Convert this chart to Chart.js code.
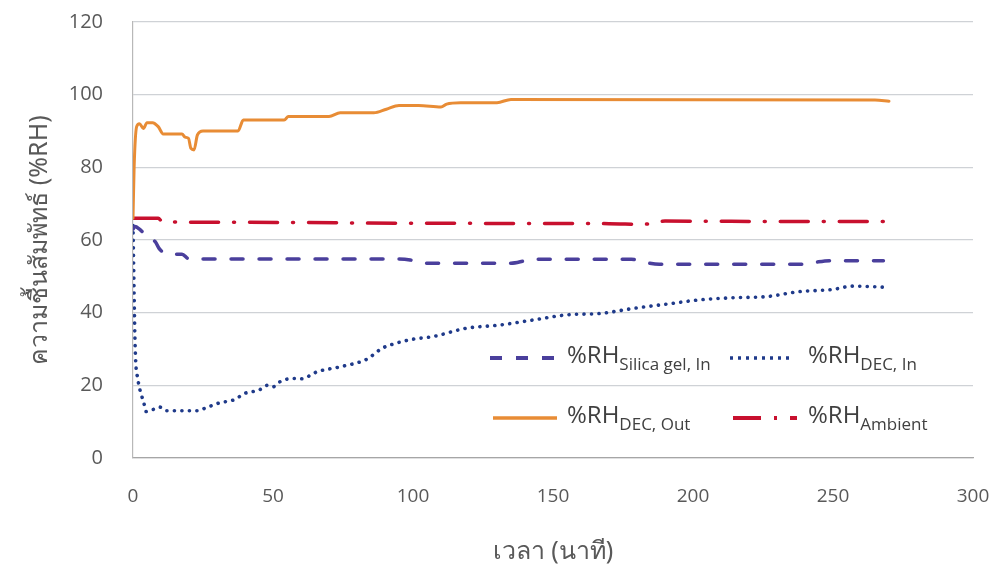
<!DOCTYPE html>
<html>
<head>
<meta charset="utf-8">
<script src="https://cdn.jsdelivr.net/npm/chart.js@4"></script>
<style>
  html, body { margin: 0; padding: 0; background: #fff; }
  #wrap { position: relative; width: 999px; height: 569px; }
  #chart { position: absolute; left: 0; top: 0; }
  .leg { position: absolute; font-family: 'Open Sans', 'Noto Sans', sans-serif; color: #404040; font-size: 24px; line-height: 28px; white-space: nowrap; }
  .leg sub { font-size: 17px; vertical-align: -7px; line-height: 0; }
  .sample { position: absolute; }
</style>
</head>
<body>
<div id="wrap">
  <canvas id="chart" width="999" height="569"></canvas>
  <div id="legend"></div>
</div>
<script>
// 시간 (분) / 상대습도 (%RH)
const tSilica = [0, 0.7, 2.3, 5, 6.5, 8, 9.3, 11, 12.5, 17.5, 20, 95, 99, 102, 107, 135, 140, 143, 178, 182, 188, 238, 243, 249, 268];
const rhSilica = [63, 63.7, 63, 61, 60.2, 59.5, 57.7, 56.5, 56.1, 56.1, 54.8, 54.8, 54.5, 53.8, 53.6, 53.6, 54.3, 54.7, 54.7, 54, 53.3, 53.3, 53.8, 54.3, 54.3];

const tDecIn = [0, 0.8, 1.8, 2.5, 3.9, 4.6, 6, 8, 9.6, 12, 23, 26, 31, 36, 40, 45, 48, 50, 52.5, 57, 60, 66, 74, 83.5, 89, 94, 100, 107, 119, 131, 143, 155, 167, 179, 191, 202, 214, 226, 238, 250, 257, 269];
const rhDecIn = [64, 30, 21.5, 18.7, 15.1, 12.8, 13.2, 13.5, 14, 13, 13, 13.8, 15.2, 16, 17.8, 18.7, 20, 19.6, 21, 21.9, 21.8, 23.8, 25.1, 27.2, 30.2, 31.6, 32.7, 33.4, 35.7, 36.6, 38, 39.4, 39.8, 41.2, 42.4, 43.5, 44.1, 44.4, 45.8, 46.4, 47.3, 47];

const tDecOut = [0, 0.4, 1.3, 2.3, 3.7, 5, 7, 9, 10.8, 17.5, 18.6, 19.8, 20.7, 21.8, 23, 25, 37.5, 39.4, 54, 55.5, 70, 74, 86, 90.5, 95, 102, 110, 112, 117, 130, 135, 265, 270];
const rhDecOut = [66, 80, 91.2, 92, 90.7, 92.3, 92.3, 91.2, 89.2, 89.2, 88.3, 88, 85.2, 84.8, 88.9, 90, 90, 93, 93, 94, 94, 95, 95, 96, 97, 97, 96.6, 97.4, 97.8, 97.8, 98.7, 98.5, 98.2];

const tAmbient = [0, 9, 10.5, 30, 60, 95, 170, 182, 190, 230, 270];
const rhAmbient = [66, 66, 65, 64.9, 64.8, 64.6, 64.5, 64.3, 65.2, 65.1, 65.1];

const xTicks = [0, 50, 100, 150, 200, 250, 300];
const yTicks = [0, 20, 40, 60, 80, 100, 120];

// 색상
const colors = {
  silica: '#4a3f9c',
  decIn: '#1f3a8a',
  decOut: '#e88c35',
  ambient: '#c8102e'
};

function toPoints(t, v) {
  return t.map((x, i) => ({ x: x, y: v[i] }));
}

// 축 라벨 때문에 생기는 추가 여백 제거
function noExtraPadding(scale) {
  scale.paddingTop = 0;
  scale.paddingRight = 0;
  scale.paddingLeft = 0;
  scale.paddingBottom = 0;
}

const datasets = [
  {
    label: '%RH DEC, Out',
    data: toPoints(tDecOut, rhDecOut),
    borderColor: colors.decOut,
    borderWidth: 3,
    borderCapStyle: 'round'
  },
  {
    label: '%RH Ambient',
    data: toPoints(tAmbient, rhAmbient),
    borderColor: colors.ambient,
    borderWidth: 3.5,
    borderDash: [28, 15, 1, 15],
    borderCapStyle: 'round'
  },
  {
    label: '%RH Silica gel, In',
    data: toPoints(tSilica, rhSilica),
    borderColor: colors.silica,
    borderWidth: 3.5,
    borderDash: [12, 16],
    borderCapStyle: 'round'
  },
  {
    label: '%RH DEC, In',
    data: toPoints(tDecIn, rhDecIn),
    borderColor: colors.decIn,
    borderWidth: 3.6,
    borderDash: [0.1, 7.4],
    borderCapStyle: 'round'
  }
];

new Chart(document.getElementById('chart'), {
  type: 'line',
  data: { datasets: datasets },
  options: {
    responsive: false,
    animation: false,
    events: [],
    layout: { padding: { left: 25, right: 26, top: 22, bottom: 0 } },
    elements: {
      point: { radius: 0 },
      line: { cubicInterpolationMode: 'monotone', fill: false }
    },
    plugins: {
      legend: { display: false },
      tooltip: { enabled: false }
    },
    scales: {
      x: {
        type: 'linear',
        min: 0,
        max: 300,
        afterBuildTicks: (scale) => { scale.ticks = xTicks.map(v => ({ value: v })); },
        afterFit: (scale) => { scale.height = 111; noExtraPadding(scale); },
        grid: { display: false, drawTicks: false },
        border: { display: true, color: '#a6a6a6', width: 1.2 },
        ticks: {
          padding: 27,
          color: '#595959',
          font: { family: "'Open Sans', 'Noto Sans', sans-serif", size: 19 }
        },
        title: {
          display: true,
          text: 'เวลา (นาที)',
          color: '#595959',
          padding: { top: 0, bottom: 2 },
          font: { family: "'Noto Sans', 'Open Sans', sans-serif", size: 25 }
        }
      },
      y: {
        min: 0,
        max: 120,
        afterBuildTicks: (scale) => { scale.ticks = yTicks.map(v => ({ value: v })); },
        afterFit: (scale) => { scale.width = 108; noExtraPadding(scale); },
        grid: { color: '#cfd2d6', lineWidth: 1.3, drawTicks: false },
        border: { display: true, color: '#b8b8b8', width: 1.2 },
        ticks: {
          padding: 30,
          color: '#595959',
          font: { family: "'Open Sans', 'Noto Sans', sans-serif", size: 20 }
        },
        title: {
          display: true,
          text: 'ความชื้นสัมพัทธ์ (%RH)',
          color: '#595959',
          padding: { top: 0, bottom: 0 },
          font: { family: "'Noto Sans', 'Open Sans', sans-serif", size: 25 }
        }
      }
    }
  }
});

// 범례 (아래첨자 때문에 HTML 로 작성)
const legendItems = [
  { main: '%RH', sub: 'Silica gel, In', color: colors.silica, dash: '12 14', width: 4, x: 490, y: 358, tx: 567 },
  { main: '%RH', sub: 'DEC, In', color: colors.decIn, dash: '3 5', width: 3.5, x: 730, y: 358, tx: 808 },
  { main: '%RH', sub: 'DEC, Out', color: colors.decOut, dash: '', width: 3.5, x: 493, y: 418, tx: 567 },
  { main: '%RH', sub: 'Ambient', color: colors.ambient, dash: '28 13 3 13', width: 4, x: 733, y: 418, tx: 808 }
];

const legendDiv = document.getElementById('legend');
legendItems.forEach(item => {
  const svg = `<svg class="sample" style="left:${item.x}px;top:${item.y - 5}px" width="66" height="10">
      <line x1="0" y1="5" x2="64" y2="5" stroke="${item.color}" stroke-width="${item.width}"
        ${item.dash ? `stroke-dasharray="${item.dash}"` : ''}/>
    </svg>`;
  legendDiv.insertAdjacentHTML('beforeend', svg);
  const label = document.createElement('div');
  label.className = 'leg';
  label.style.left = item.tx + 'px';
  label.style.top = (item.y - 18) + 'px';
  label.innerHTML = `${item.main}<sub>${item.sub}</sub>`;
  legendDiv.appendChild(label);
});
</script>
</body>
</html>
